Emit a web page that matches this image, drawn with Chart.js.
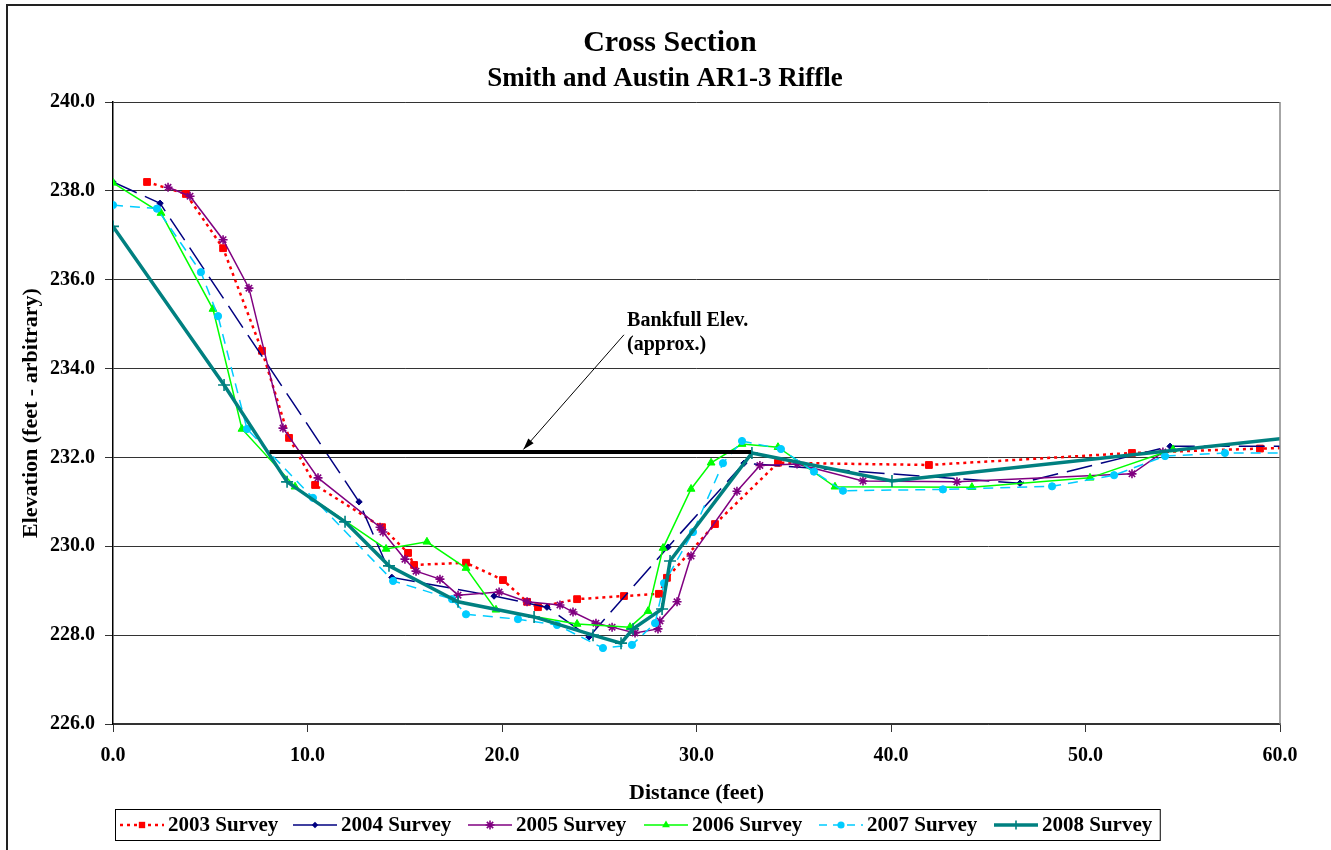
<!DOCTYPE html>
<html>
<head>
<meta charset="utf-8">
<title>Cross Section - Smith and Austin AR1-3 Riffle</title>
<script src="https://cdn.jsdelivr.net/npm/chart.js@4.4.1/dist/chart.umd.min.js"></script>
<style>
    html, body { margin: 0; padding: 0; background: #fff; }
    #chart { display: block; }
</style>
</head>
<body>
<canvas id="chart" width="1331" height="850"></canvas>
<script>
// Survey data (distance ft, elevation ft)
const dist2003 = [1.75, 3.75, 5.66, 7.66, 9.05, 10.39, 13.83, 15.17, 15.48, 18.15, 20.05, 21.29, 21.85, 23.86, 26.27, 28.07, 28.48, 30.95, 34.19, 41.95, 52.39, 58.97, 61.0];
const elev2003 = [238.20, 237.93, 236.71, 234.40, 232.44, 231.38, 230.43, 229.85, 229.58, 229.63, 229.24, 228.75, 228.63, 228.81, 228.88, 228.93, 229.29, 230.50, 231.88, 231.83, 232.10, 232.20, 232.22];

const dist2004 = [0.0, 2.42, 12.65, 14.34, 19.59, 22.31, 24.47, 28.53, 32.44, 46.63, 54.35, 61.0];
const elev2004 = [238.20, 237.72, 231.00, 229.30, 228.88, 228.63, 227.96, 229.98, 231.87, 231.42, 232.25, 232.25];

const dist2005 = [2.83, 3.96, 5.66, 6.99, 8.74, 10.54, 13.73, 13.88, 15.01, 15.58, 16.81, 17.74, 19.85, 21.29, 22.98, 23.65, 24.83, 25.66, 26.84, 28.02, 28.12, 29.00, 29.72, 32.08, 33.26, 35.17, 38.56, 43.39, 52.39, 53.98];
const elev2005 = [238.08, 237.88, 236.90, 235.81, 232.66, 231.54, 230.43, 230.32, 229.71, 229.44, 229.26, 228.90, 228.97, 228.75, 228.68, 228.52, 228.27, 228.18, 228.05, 228.14, 228.32, 228.75, 229.78, 231.24, 231.82, 231.85, 231.47, 231.45, 231.63, 232.12];

const dist2006 = [0.0, 2.47, 5.14, 6.63, 9.36, 14.04, 16.14, 18.15, 19.69, 23.86, 26.58, 27.51, 28.28, 29.72, 30.75, 32.34, 34.19, 37.12, 44.16, 50.23, 54.50];
const elev2006 = [238.18, 237.50, 235.34, 232.64, 231.34, 229.94, 230.10, 229.51, 228.57, 228.25, 228.18, 228.54, 229.96, 231.29, 231.88, 232.30, 232.23, 231.34, 231.33, 231.54, 232.18];

const dist2007 = [0.0, 2.26, 4.52, 5.40, 6.89, 10.28, 14.40, 17.43, 18.15, 20.82, 22.83, 25.19, 26.68, 27.87, 28.33, 29.82, 31.36, 32.34, 34.34, 36.04, 37.53, 42.67, 48.28, 51.47, 54.09, 57.17, 61.0];
const elev2007 = [237.68, 237.60, 236.17, 235.18, 232.64, 231.09, 229.22, 228.81, 228.47, 228.36, 228.23, 227.71, 227.78, 228.27, 229.17, 230.32, 231.87, 232.37, 232.19, 231.68, 231.25, 231.28, 231.35, 231.60, 232.03, 232.10, 232.10];

const dist2008 = [0.0, 5.71, 8.95, 11.93, 14.19, 17.74, 21.65, 24.68, 26.12, 26.74, 28.23, 28.64, 32.85, 40.05, 61.0];
const elev2008 = [237.20, 233.63, 231.45, 230.55, 229.56, 228.75, 228.41, 228.00, 227.82, 228.14, 228.59, 229.67, 232.10, 231.47, 232.47];

// bankfull elevation line and its callout
const bankfullDist = [8.05, 32.80];
const bankfullElev = [232.12, 232.12];
const calloutLines = ['Bankfull Elev.', '(approx.)'];
const calloutText = [26.43, 234.96];   // baseline of first label line
const arrowFrom = [26.27, 234.76];
const arrowTo = [21.1, 232.18];

const xTicks = [0, 10, 20, 30, 40, 50, 60];
const yTicks = [226, 228, 230, 232, 234, 236, 238, 240];

const FONT = "'Liberation Serif', 'Times New Roman', serif";

const toPoints = (xs, ys) => xs.map((x, i) => ({ x: x, y: ys[i] }));

// legendDash: pattern used for the small legend sample
const series = [
    { label: '2003 Survey', data: toPoints(dist2003, elev2003), color: '#FF0000', width: 2.5, dash: [3, 4], legendDash: [3, 4], point: 'rect', radius: 4.8, order: 6 },
    { label: '2004 Survey', data: toPoints(dist2004, elev2004), color: '#000080', width: 1.5, dash: [26, 9], legendDash: [], point: 'rectRot', radius: 3.2, order: 5 },
    { label: '2005 Survey', data: toPoints(dist2005, elev2005), color: '#800080', width: 1.5, dash: [], legendDash: [], point: 'star', radius: 4.5, order: 4 },
    { label: '2006 Survey', data: toPoints(dist2006, elev2006), color: '#00FF00', width: 1.5, dash: [], legendDash: [], point: 'triangle', radius: 4.5, order: 3 },
    { label: '2007 Survey', data: toPoints(dist2007, elev2007), color: '#00CCFF', width: 1.5, dash: [10, 7], legendDash: [8, 6], point: 'circle', radius: 3.6, order: 2 },
    { label: '2008 Survey', data: toPoints(dist2008, elev2008), color: '#008080', width: 3.5, dash: [], legendDash: [], point: 'cross', radius: 6, order: 1 }
];

const datasets = series.map(s => ({
    label: s.label,
    data: s.data,
    borderColor: s.color,
    backgroundColor: s.color,
    borderWidth: s.width,
    borderDash: s.dash,
    borderCapStyle: 'butt',
    pointStyle: s.point,
    pointRadius: s.radius,
    pointBorderColor: s.color,
    pointBackgroundColor: s.color,
    pointBorderWidth: s.point === 'star' || s.point === 'cross' ? 1.6 : 1,
    pointHoverRadius: s.radius,
    tension: 0,
    order: s.order
}));

datasets.push({
    label: 'Bankfull',
    data: toPoints(bankfullDist, bankfullElev),
    borderColor: '#000',
    borderWidth: 4,
    pointRadius: 0,
    tension: 0,
    order: 0
});

function drawMarker(ctx, style, x, y, r, color) {
    ctx.save();
    ctx.fillStyle = color;
    ctx.strokeStyle = color;
    ctx.lineWidth = 1.6;
    ctx.setLineDash([]);
    ctx.beginPath();
    if (style === 'rect') {
        const s = r * Math.SQRT1_2;
        ctx.rect(x - s, y - s, 2 * s, 2 * s);
        ctx.fill();
    } else if (style === 'rectRot') {
        ctx.moveTo(x, y - r); ctx.lineTo(x + r, y); ctx.lineTo(x, y + r); ctx.lineTo(x - r, y);
        ctx.closePath(); ctx.fill();
    } else if (style === 'triangle') {
        ctx.moveTo(x, y - r); ctx.lineTo(x + r * 0.87, y + r * 0.5); ctx.lineTo(x - r * 0.87, y + r * 0.5);
        ctx.closePath(); ctx.fill();
    } else if (style === 'circle') {
        ctx.arc(x, y, r, 0, Math.PI * 2); ctx.fill();
    } else if (style === 'cross') {
        ctx.moveTo(x - r, y); ctx.lineTo(x + r, y); ctx.moveTo(x, y - r); ctx.lineTo(x, y + r); ctx.stroke();
    } else if (style === 'star') {
        const d = r * Math.SQRT1_2;
        ctx.moveTo(x - r, y); ctx.lineTo(x + r, y); ctx.moveTo(x, y - r); ctx.lineTo(x, y + r);
        ctx.moveTo(x - d, y - d); ctx.lineTo(x + d, y + d); ctx.moveTo(x - d, y + d); ctx.lineTo(x + d, y - d);
        ctx.stroke();
    }
    ctx.restore();
}

// frame, titles, axis titles, legend and the bankfull callout
const decorPlugin = {
    id: 'decor',
    beforeDraw(chart) {
        const ctx = chart.ctx;
        ctx.save();
        ctx.fillStyle = '#fff';
        ctx.fillRect(0, 0, chart.width, chart.height);
        ctx.strokeStyle = '#222';
        ctx.lineWidth = 2;
        ctx.beginPath();
        ctx.moveTo(7, chart.height);
        ctx.lineTo(7, 5);
        ctx.lineTo(chart.width, 5);
        ctx.stroke();

        ctx.fillStyle = '#000';
        ctx.textAlign = 'center';
        ctx.textBaseline = 'alphabetic';
        ctx.font = 'bold 30px ' + FONT;
        ctx.fillText('Cross Section', 670, 51);
        ctx.font = 'bold 27px ' + FONT;
        ctx.fillText('Smith and Austin AR1-3 Riffle', 665, 86);
        ctx.restore();
    },
    afterDraw(chart) {
        const ctx = chart.ctx;
        const area = chart.chartArea;
        const xs = chart.scales.x;
        const ys = chart.scales.y;
        ctx.save();

        // right edge of plot area
        ctx.strokeStyle = '#888';
        ctx.lineWidth = 1.5;
        ctx.beginPath();
        ctx.moveTo(area.right, area.top);
        ctx.lineTo(area.right, area.bottom);
        ctx.stroke();

        // axis titles
        ctx.fillStyle = '#000';
        ctx.font = 'bold 22px ' + FONT;
        ctx.textAlign = 'center';
        ctx.textBaseline = 'middle';
        ctx.fillText('Distance (feet)', (area.left + area.right) / 2, 793);
        ctx.save();
        ctx.translate(31, (area.top + area.bottom) / 2);
        ctx.rotate(-Math.PI / 2);
        ctx.fillText('Elevation (feet - arbitrary)', 0, 0);
        ctx.restore();

        // callout text and arrow
        ctx.font = 'bold 20px ' + FONT;
        ctx.textAlign = 'left';
        ctx.textBaseline = 'alphabetic';
        const tx = xs.getPixelForValue(calloutText[0]);
        const ty = ys.getPixelForValue(calloutText[1]);
        ctx.fillText(calloutLines[0], tx, ty);
        ctx.fillText(calloutLines[1], tx, ty + 24);

        const ax0 = xs.getPixelForValue(arrowFrom[0]);
        const ay0 = ys.getPixelForValue(arrowFrom[1]);
        const ax1 = xs.getPixelForValue(arrowTo[0]);
        const ay1 = ys.getPixelForValue(arrowTo[1]);
        ctx.strokeStyle = '#000';
        ctx.lineWidth = 1;
        ctx.beginPath();
        ctx.moveTo(ax0, ay0);
        ctx.lineTo(ax1, ay1);
        ctx.stroke();
        const ang = Math.atan2(ay1 - ay0, ax1 - ax0);
        const head = 12;
        ctx.beginPath();
        ctx.moveTo(ax1, ay1);
        ctx.lineTo(ax1 - head * Math.cos(ang - 0.3), ay1 - head * Math.sin(ang - 0.3));
        ctx.lineTo(ax1 - head * Math.cos(ang + 0.3), ay1 - head * Math.sin(ang + 0.3));
        ctx.closePath();
        ctx.fillStyle = '#000';
        ctx.fill();

        // legend
        const itemX = [120, 293, 468, 644, 819, 994];
        const ly = 825;
        ctx.font = 'bold 21px ' + FONT;
        ctx.textBaseline = 'middle';
        let rightEdge = 0;
        series.forEach((s, i) => {
            const x0 = itemX[i];
            ctx.save();
            ctx.strokeStyle = s.color;
            ctx.lineWidth = s.width;
            ctx.lineCap = 'butt';
            ctx.setLineDash(s.legendDash);
            ctx.beginPath();
            ctx.moveTo(x0, ly);
            ctx.lineTo(x0 + 44, ly);
            ctx.stroke();
            ctx.restore();
            drawMarker(ctx, s.point, x0 + 22, ly, Math.min(s.radius, 4.5), s.color);
            ctx.fillStyle = '#000';
            ctx.fillText(s.label, x0 + 48, ly + 1);
            rightEdge = x0 + 48 + ctx.measureText(s.label).width;
        });
        ctx.strokeStyle = '#000';
        ctx.lineWidth = 1;
        ctx.setLineDash([]);
        ctx.strokeRect(115.5, 809.5, rightEdge + 8 - 115.5, 31);

        ctx.restore();
    }
};

document.addEventListener('DOMContentLoaded', () => {
    const ctx = document.getElementById('chart').getContext('2d');
    new Chart(ctx, {
        type: 'line',
        data: { datasets: datasets },
        options: {
            responsive: false,
            animation: false,
            layout: { padding: { left: 0, top: 102, right: 51, bottom: 0 } },
            plugins: {
                legend: { display: false },
                title: { display: false },
                tooltip: { enabled: false }
            },
            scales: {
                x: {
                    type: 'linear',
                    min: 0,
                    max: 60,
                    afterBuildTicks: (scale) => { scale.ticks = xTicks.map(v => ({ value: v })); },
                    afterFit: (scale) => { scale.height = 126; },
                    ticks: {
                        callback: v => Number(v).toFixed(1),
                        font: { family: FONT, size: 20, weight: 'bold' },
                        color: '#000',
                        padding: 12,
                        maxRotation: 0
                    },
                    grid: { drawOnChartArea: false, drawTicks: true, tickLength: 8, color: '#333', lineWidth: 1 },
                    border: { display: true, color: '#333', width: 1.5 }
                },
                y: {
                    type: 'linear',
                    min: 226,
                    max: 240,
                    afterBuildTicks: (scale) => { scale.ticks = yTicks.map(v => ({ value: v })); },
                    afterFit: (scale) => { scale.width = 113; },
                    ticks: {
                        callback: v => Number(v).toFixed(1),
                        font: { family: FONT, size: 20, weight: 'bold' },
                        color: '#000',
                        padding: 10
                    },
                    grid: { color: '#333', lineWidth: 1, tickLength: 8 },
                    border: { display: true, color: '#000', width: 1.5 }
                }
            }
        },
        plugins: [decorPlugin]
    });
});
</script>
</body>
</html>
